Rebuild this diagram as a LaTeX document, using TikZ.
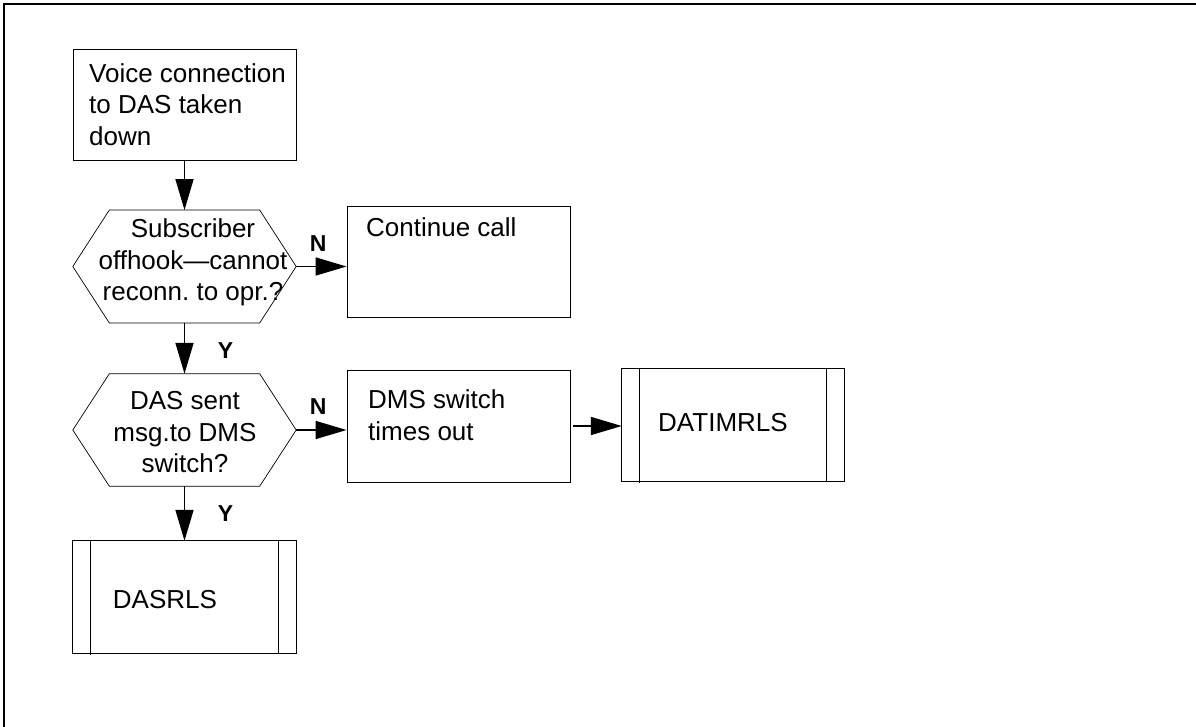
\documentclass[tikz,border=0pt]{standalone}
\usepackage{fontspec}
\setmainfont{Liberation Sans}
\frenchspacing
\usetikzlibrary{arrows.meta}
\tikzset{
  shape box/.style={draw=none, rectangle, inner sep=0pt, minimum width=223pt, minimum height=112pt},
  boxline/.style={line width=0.9pt},
  hexline/.style={line width=0.7pt},
  flow/.style={line width=1.6pt, -{Triangle[length=31pt,width=18pt]}},
  txt/.style={inner sep=0pt, font=\fontsize{26pt}{31.5pt}\selectfont},
  yn/.style={inner sep=0pt, font=\fontsize{23pt}{26pt}\selectfont\bfseries},
}
\newcommand{\hexdraw}[1]{\draw[hexline] (#1.west) -- ([xshift=36.5pt]#1.north west) -- ([xshift=-36.5pt]#1.north east) -- (#1.east) -- ([xshift=-36.5pt]#1.south east) -- ([xshift=36.5pt]#1.south west) -- cycle;}
\newcommand{\procdraw}[1]{\draw[boxline] (#1.south west) rectangle (#1.north east);
  \draw[line width=0.7pt] ([xshift=18pt]#1.north west) -- ([xshift=18pt,yshift=-1.5pt]#1.south west);
  \draw[line width=0.7pt] ([xshift=-18pt]#1.north east) -- ([xshift=-18pt]#1.south east);}
\begin{document}
\begin{tikzpicture}[x=1pt,y=-1pt]
\useasboundingbox (0,0) rectangle (1196,727);
% outer frame
\draw[line width=2pt] (3.7,740) -- (3.7,3.7) -- (1210,3.7);

% shapes
\node[shape box, draw, boxline, minimum height=111pt] (box1) at (184.5,104.5) {};
\node[shape box, minimum height=112.5pt] (hex1) at (184.5,266.5) {};
\node[shape box] (hex2) at (184.5,430) {};
\node[shape box] (dasrls) at (184.5,597) {};
\node[shape box, draw, boxline, minimum height=111pt] (cont) at (458.5,261.5) {};
\node[shape box, draw, boxline] (dms) at (458.5,426) {};
\node[shape box, minimum width=222pt] (datim) at (733,425) {};
\hexdraw{hex1}
\hexdraw{hex2}
\procdraw{dasrls}
\procdraw{datim}

% texts (base anchor = baseline of the last line)
\node[txt, anchor=base west, align=left] (t1) at (89,145.5) {Voice connection\\to DAS taken\\down};
\node[txt, anchor=base, align=center] (t2) at (193,301) {Subscriber\\offhook\textemdash cannot\\reconn. to opr.?};
\node[txt, anchor=base, align=center] (t3) at (185,472.5) {DAS sent\\msg.to DMS\\switch?};
\node[txt, anchor=base west] (t4) at (366,236.7) {Continue call};
\node[txt, anchor=base west, align=left] (t5) at (368,440) {DMS switch\\times out};
\node[txt, anchor=base west] (t6) at (658,431.7) {DATIMRLS};
\node[txt, anchor=base west] (t7) at (112.7,608.3) {DASRLS};

% labels
\node[yn] (n1) at (318.3,244) {N};
\node[yn] (n2) at (318.3,406.7) {N};
\node[yn] (y1) at (225.5,350.5) {Y};
\node[yn] (y2) at (225.5,513.3) {Y};

% connectors
\draw[flow] (box1.south) -- (hex1.north);
\draw[flow] (hex1.south) -- (hex2.north);
\draw[flow] (hex2.south) -- (dasrls.north);
\draw[flow] (hex1.east) -- (hex1.east -| cont.west);
\draw[flow] (hex2.east) -- (hex2.east -| dms.west);
\draw[flow, shorten <=3pt] (dms.east) -- (dms.east -| datim.west);
\end{tikzpicture}
\end{document}
